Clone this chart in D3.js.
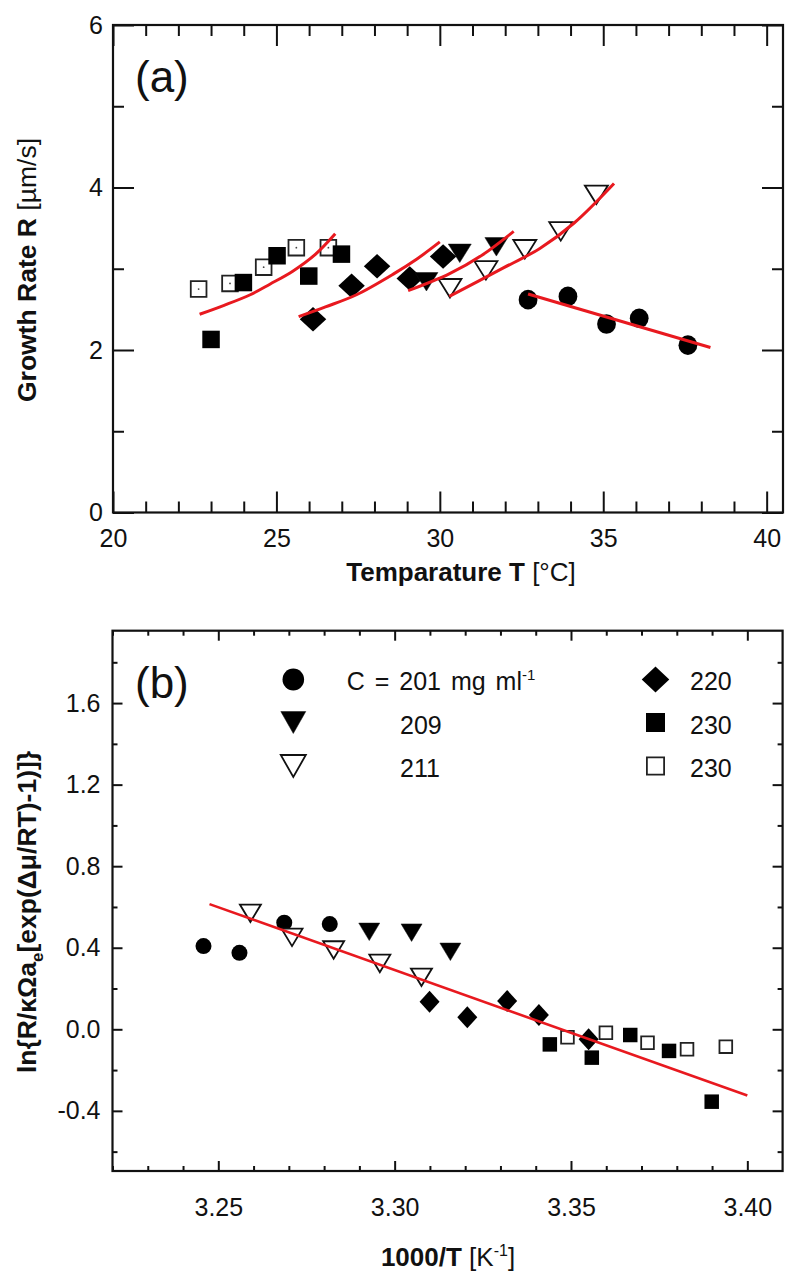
<!DOCTYPE html>
<html><head><meta charset="utf-8">
<script src="https://cdn.jsdelivr.net/npm/d3@7"></script>
<style>
body{margin:0;background:#fff}
svg text{font-family:"Liberation Sans",Arial,Helvetica,sans-serif;fill:#111}
</style>
</head><body>
<svg id="c" width="800" height="1284"></svg>
<script>
// ---------- Panel (a) data: temperature [°C] vs growth rate [µm/s] ----------
const a201T = [32.70, 33.92, 35.10, 36.10, 37.59];
const a201R = [2.62, 2.66, 2.32, 2.39, 2.06];
const a209T = [29.59, 30.61, 31.73];
const a209R = [2.84, 3.19, 3.27];
const a211T = [30.31, 31.41, 32.60, 33.70, 34.79];
const a211R = [2.76, 2.98, 3.24, 3.46, 3.91];
const a220T = [26.12, 27.30, 28.08, 29.08, 30.10];
const a220R = [2.38, 2.79, 3.03, 2.88, 3.15];
const a230fT = [23.00, 23.99, 25.02, 25.99, 26.99];
const a230fR = [2.13, 2.83, 3.16, 2.91, 3.18];
const a230oT = [22.62, 23.58, 24.61, 25.61, 26.59];
const a230oR = [2.75, 2.82, 3.02, 3.26, 3.26];
// fitted curves (a)
const fit230T = [22.65, 23.4, 24.2, 24.8, 25.5, 26.2, 26.8];
const fit230R = [2.44, 2.55, 2.68, 2.81, 2.97, 3.18, 3.43];
const fit220T = [25.68, 26.5, 27.45, 28.6, 29.3, 30.0];
const fit220R = [2.41, 2.53, 2.68, 2.94, 3.12, 3.33];
const fit209T = [29.03, 30.3, 31.3, 32.26];
const fit209R = [2.73, 2.94, 3.17, 3.46];
const fit211T = [30.29, 31.8, 33.06, 34.1, 35.33];
const fit211R = [2.66, 2.98, 3.25, 3.56, 4.05];
const fit201T = [32.70, 38.28];
const fit201R = [2.69, 2.03];
// axis ticks (a)
const aXMajor = [20, 25, 30, 35, 40];
const aXMinor = [21,22,23,24,26,27,28,29,31,32,33,34,36,37,38,39];
const aYMajor = [0, 2, 4, 6];
const aYMinor = [1, 3, 5];

// ---------- Panel (b) data: 1000/T vs ln{...} ----------
const b201X = [3.2458, 3.2560, 3.2687, 3.2816];
const b201Y = [0.408, 0.375, 0.523, 0.516];
const b209X = [3.2928, 3.3048, 3.3158];
const b209Y = [0.478, 0.474, 0.380];
const b211X = [3.2591, 3.2709, 3.2827, 3.2958, 3.3076];
const b211Y = [0.569, 0.451, 0.389, 0.323, 0.255];
const b220X = [3.3099, 3.3206, 3.3319, 3.3409, 3.3550];
const b220Y = [0.135, 0.059, 0.139, 0.070, -0.049];
const b230fX = [3.3440, 3.3559, 3.3668, 3.3778, 3.3899];
const b230fY = [-0.074, -0.139, -0.028, -0.106, -0.355];
const b230oX = [3.3490, 3.3599, 3.3717, 3.3829, 3.3939];
const b230oY = [-0.039, -0.017, -0.066, -0.098, -0.085];
const fitBX = [3.2475, 3.40];
const fitBY = [0.614, -0.325];
// axis ticks (b)
const bXMajor = [3.25, 3.30, 3.35, 3.40];
const bXMinor = [3.22,3.23,3.24,3.26,3.27,3.28,3.29,3.31,3.32,3.33,3.34,3.36,3.37,3.38,3.39];
const bYMajor = [-0.4, 0.0, 0.4, 0.8, 1.2, 1.6];
const bYMinor = [-0.6, -0.2, 0.2, 0.6, 1.0, 1.4, 1.8];

// legend
const legLeft = [["c","C = 201 mg ml","-1"],["tf","209",""],["to","211",""]];
const legRight = [["d","220",""],["sf","230",""],["so","230",""]];

const RED = "#e8191f";
const svg = d3.select("#c");

function shape(type, w, h){
  const a=w/2,b=h/2;
  if(type==="sq") return `M${-a},${-b}H${a}V${b}H${-a}Z`;
  if(type==="d") return `M0,${-b}L${a},0L0,${b}L${-a},0Z`;
  if(type==="t") return `M${-a},${-b}L${a},${-b}L0,${b}Z`;
}
function marker(g, type, x, y, sz){
  if(type==="c"){
    g.append("ellipse").attr("cx",x).attr("cy",y).attr("rx",sz.c[0]).attr("ry",sz.c[1]).attr("fill","#000");
  } else if(type==="tf"||type==="to"){
    g.append("path").attr("transform",`translate(${x},${y})`).attr("d",shape("t",sz.t[0],sz.t[1]))
      .attr("fill",type==="tf"?"#000":"#fff").attr("stroke","#111").attr("stroke-width",type==="tf"?0.5:1.8);
  } else if(type==="d"){
    g.append("path").attr("transform",`translate(${x},${y})`).attr("d",shape("d",sz.d[0],sz.d[1])).attr("fill","#000");
  } else if(type==="sf"||type==="so"){
    const w = type==="so" ? sz.s-1.8 : sz.s;
    g.append("path").attr("transform",`translate(${x},${y})`).attr("d",shape("sq",w,w))
      .attr("fill",type==="sf"?"#000":"#fff").attr("stroke",type==="sf"?"none":"#222").attr("stroke-width",1.8);
    if(type==="so" && sz.dot) g.append("circle").attr("cx",x).attr("cy",y).attr("r",0.9).attr("fill","#444");
  }
}

function drawAxes(x, y, o){
  const g = svg.append("g");
  const [x0,x1]=x.range(), [y0,y1]=y.range();
  const styleAxis = sel => { sel.select(".domain").remove(); sel.selectAll("line").attr("stroke","#111").attr("stroke-width",2);
    sel.attr("font-family",null).attr("font-size",null); sel.selectAll("text").attr("font-size",o.fs).attr("fill","#111"); };
  g.append("g").attr("transform",`translate(0,${y0})`).call(d3.axisBottom(x).tickValues(o.xMaj).tickSizeInner(-o.maj).tickSizeOuter(0).tickPadding(o.xPad).tickFormat(o.xFmt)).call(styleAxis);
  g.append("g").attr("transform",`translate(0,${y0})`).call(d3.axisBottom(x).tickValues(o.xMin).tickSizeInner(-o.min).tickSizeOuter(0).tickFormat("")).call(styleAxis);
  g.append("g").attr("transform",`translate(0,${y1})`).call(d3.axisTop(x).tickValues(o.xMaj).tickSizeInner(-o.maj).tickSizeOuter(0).tickFormat("")).call(styleAxis);
  g.append("g").attr("transform",`translate(0,${y1})`).call(d3.axisTop(x).tickValues(o.xMin).tickSizeInner(-o.min).tickSizeOuter(0).tickFormat("")).call(styleAxis);
  g.append("g").attr("transform",`translate(${x0},0)`).call(d3.axisLeft(y).tickValues(o.yMaj).tickSizeInner(-o.maj).tickSizeOuter(0).tickPadding(o.yPad).tickFormat(o.yFmt)).call(styleAxis);
  g.append("g").attr("transform",`translate(${x0},0)`).call(d3.axisLeft(y).tickValues(o.yMin).tickSizeInner(-o.min).tickSizeOuter(0).tickFormat("")).call(styleAxis);
  g.append("g").attr("transform",`translate(${x1},0)`).call(d3.axisRight(y).tickValues(o.yMaj).tickSizeInner(-o.maj).tickSizeOuter(0).tickFormat("")).call(styleAxis);
  g.append("g").attr("transform",`translate(${x1},0)`).call(d3.axisRight(y).tickValues(o.yMin).tickSizeInner(-o.min).tickSizeOuter(0).tickFormat("")).call(styleAxis);
  g.append("rect").attr("x",x0).attr("y",y1).attr("width",x1-x0).attr("height",y0-y1).attr("fill","none").attr("stroke","#111").attr("stroke-width",2.2);
}

// ================= Panel (a) =================
const xA = d3.scaleLinear().domain([20, 40.5]).range([113, 783]);
const yA = d3.scaleLinear().domain([0, 6]).range([512.5, 25]);
drawAxes(xA, yA, {xMaj:aXMajor,xMin:aXMinor,yMaj:aYMajor,yMin:aYMinor,maj:21,min:11,fs:25,xPad:17,yPad:10,
  xFmt:d=>String(d), yFmt:d=>String(d)});
const gA = svg.append("g");
const szA = {c:[9.4,9.8], t:[23,18.5], d:[26.5,24.5], s:17.5, dot:true};
const ptsA = [[a230oT,a230oR,"so"],[a230fT,a230fR,"sf"],[a220T,a220R,"d"],[a209T,a209R,"tf"],[a211T,a211R,"to"],[a201T,a201R,"c"]];
ptsA.forEach(([xs,ys,t])=>xs.forEach((v,i)=>marker(gA,t,xA(v),yA(ys[i]),szA)));
const lineA = d3.line().x(d=>xA(d[0])).y(d=>yA(d[1])).curve(d3.curveCatmullRom.alpha(0.5));
[[fit230T,fit230R],[fit220T,fit220R],[fit209T,fit209R],[fit211T,fit211R],[fit201T,fit201R]].forEach(([xs,ys])=>{
  gA.append("path").attr("d",lineA(xs.map((v,i)=>[v,ys[i]]))).attr("fill","none").attr("stroke",RED).attr("stroke-width",3);
});
svg.append("text").attr("x",135).attr("y",92).attr("font-size",44).text("(a)");
const tA = svg.append("text").attr("x",461).attr("y",581).attr("text-anchor","middle").attr("font-size",26);
tA.append("tspan").attr("font-weight","bold").text("Temparature T");
tA.append("tspan").text(" [°C]");
const yTA = svg.append("text").attr("transform","translate(36,270) rotate(-90)").attr("text-anchor","middle").attr("font-size",26.5);
yTA.append("tspan").attr("font-weight","bold").text("Growth Rate R");
yTA.append("tspan").text(" [µm/s]");

// ================= Panel (b) =================
const xB = d3.scaleLinear().domain([3.22, 3.41]).range([112.5, 782.6]);
const yB = d3.scaleLinear().domain([-0.695, 1.955]).range([1171, 630.7]);
drawAxes(xB, yB, {xMaj:bXMajor,xMin:bXMinor,yMaj:bYMajor,yMin:bYMinor,maj:10,min:5,fs:25,xPad:27,yPad:12,
  xFmt:d=>d.toFixed(2), yFmt:d=>(Math.abs(d)<1e-9?0:d).toFixed(1)});
const gB = svg.append("g");
const szB = {c:[8,8], t:[21,17.5], d:[20,22], s:14.5, dot:false};
const ptsB = [[b201X,b201Y,"c"],[b211X,b211Y,"to"],[b209X,b209Y,"tf"],[b220X,b220Y,"d"],[b230oX,b230oY,"so"],[b230fX,b230fY,"sf"]];
ptsB.forEach(([xs,ys,t])=>xs.forEach((v,i)=>marker(gB,t,xB(v),yB(ys[i]),szB)));
gB.append("path").attr("d",d3.line().x(d=>xB(d[0])).y(d=>yB(d[1]))(fitBX.map((v,i)=>[v,fitBY[i]])))
  .attr("fill","none").attr("stroke",RED).attr("stroke-width",2.6);
svg.append("text").attr("x",135).attr("y",698).attr("font-size",44).text("(b)");

// legend
const szL = {c:[10.8,11], t:[25,22], d:[27.5,26], s:19, dot:false};
const legRows = [679.5, 722.5, 766];
const legBase = [690, 734, 777];
legLeft.forEach(([t,lab,sup],i)=>{
  marker(svg,t,293.3,legRows[i],szL);
  const tx = svg.append("text").attr("x", i===0?346.7:400).attr("y",legBase[i]).attr("font-size",25).attr("word-spacing",3);
  tx.append("tspan").text(lab);
  if(sup) tx.append("tspan").attr("dy",-10).attr("font-size",15).text(sup);
});
legRight.forEach(([t,lab],i)=>{
  marker(svg,t,655.5,legRows[i],szL);
  svg.append("text").attr("x",690).attr("y",legBase[i]).attr("font-size",25).text(lab);
});

// axis titles (b)
const tB = svg.append("text").attr("x",448).attr("y",1266).attr("text-anchor","middle").attr("font-size",26);
tB.append("tspan").attr("font-weight","bold").text("1000/T");
tB.append("tspan").text(" [K");
tB.append("tspan").attr("dy",-10).attr("font-size",16).text("-1");
tB.append("tspan").attr("dy",10).text("]");
const yTB = svg.append("text").attr("transform","translate(36,912) rotate(-90)").attr("text-anchor","middle").attr("font-size",26.5).attr("font-weight","bold");
yTB.append("tspan").text("ln{R/κΩa");
yTB.append("tspan").attr("dy",7).attr("font-size",17).text("e");
yTB.append("tspan").attr("dy",-7).text("[exp(Δμ/RT)-1)]}");
</script>
</body></html>
